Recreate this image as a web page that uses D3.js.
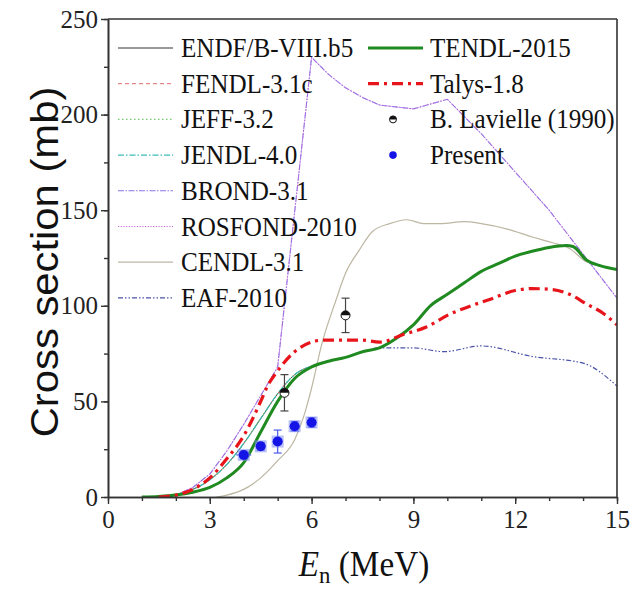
<!DOCTYPE html>
<html>
<head>
<meta charset="utf-8">
<script src="https://cdn.jsdelivr.net/npm/d3@7/dist/d3.min.js"></script>
<style>
  body { margin: 0; background: #fff; }
</style>
</head>
<body>
<svg id="main" width="640" height="590"></svg>
<script>
// values, [E (MeV), cross section (mb)]
var tendl2015 = [[1,0],[1.5,0.3],[2,1],[2.5,2.5],[3,5],[3.5,10],[4,18],[4.5,34],[5,50],[5.5,62],[6,68],[6.5,71],[7,73],[7.5,76],[8,78],[8.5,83],[9,90],[9.5,100],[10,106],[10.5,112],[11,118],[11.5,122],[12,126],[12.5,128.5],[13,130.5],[13.5,131.5],[13.7,131],[14.1,124],[14.5,121],[15,119]]
var talys18 = [[1.5,0],[2,1],[2.5,4],[3,10],[3.5,20],[4,32],[4.5,50],[4.7,58],[5,66],[5.5,76],[6,81],[6.3,82],[7,82],[7.5,82],[8,81],[8.7,85],[9.4,89],[10,95],[10.7,100],[11.2,103],[12,108],[12.5,109],[13.1,108.5],[13.6,106],[14.1,101],[14.6,96],[15,90]]
var endfLike = [[1,0],[1.5,0.3],[2,1.2],[2.5,4],[3,9],[3.5,17],[4,28],[4.5,41],[5,54],[5.5,64],[6,68.5],[6.5,71],[7,73],[7.5,76],[8,78],[8.5,83],[9,90],[9.5,100],[10,106],[10.5,112],[11,118],[11.5,122],[12,126],[12.5,128.5],[13,130.5],[13.5,131.5],[13.7,131],[14.1,124],[14.5,121],[15,119]]
var brondLike = [[1,0],[1.5,0.3],[2,1],[2.5,5],[3,12],[3.5,24],[4,38],[4.5,53],[5,68],[6,230],[6.5,221],[7,214],[7.5,209],[8,205],[9,203],[10,208],[11,190],[12,170],[13,150],[14,127],[15,104]]
var cendl31 = [[3.2,0],[3.5,1],[4,4],[4.5,10],[5,19],[5.5,30],[5.8,44],[6,57],[6.3,80],[6.7,102],[7,117],[7.4,129],[7.8,139],[8.3,143],[8.8,145],[9.3,143],[9.8,143],[10.5,144],[11,143],[11.8,140],[12.5,136],[13.1,133],[13.6,130],[14.1,123],[14.5,121],[15,119]]
var eaf2010 = [[1,0],[1.5,0.3],[2,1],[2.5,2.5],[3,5],[3.5,10],[4,18],[4.5,34],[5,50],[5.5,62],[6,68],[6.5,71],[7,73],[7.5,76],[8,78],[9,78],[9.9,76],[11,79],[12.5,73.5],[14,70],[15,58]]

var lavielleE = [5.2, 7.0]
var lavielleV = [54.5, 95]
var lavielleErr = [9.5, 9]

var presentE = [4.0, 4.5, 5.0, 5.5, 6.0]
var presentV = [22, 26.5, 29, 37, 39]
var presentErr = [2, 2, 6, 2.5, 2.5]
var presentEErr = [0.22, 0.15, 0.15, 0.15, 0.15]

var xTicks = [0, 3, 6, 9, 12, 15]
var yTicks = [0, 50, 100, 150, 200, 250]

var svg = d3.select('#main')
var x = d3.scaleLinear().domain([0, 15]).range([108, 617])
var y = d3.scaleLinear().domain([0, 250]).range([497, 19])

svg.append('clipPath').attr('id', 'plotclip')
    .append('rect').attr('x', 108).attr('y', 19).attr('width', 509).attr('height', 478)

var smooth = d3.line()
    .x(function(d) { return x(d[0]) })
    .y(function(d) { return y(d[1]) })
    .curve(d3.curveMonotoneX)
var straight = d3.line()
    .x(function(d) { return x(d[0]) })
    .y(function(d) { return y(d[1]) })

// drawing order: hidden ones first, thick curves last
var curves = [
    { name: 'ENDF/B-VIII.b5', data: endfLike, color: '#333', width: 1, dash: null, col: 0, row: 0 },
    { name: 'FENDL-3.1c', data: endfLike, color: '#e06a6a', width: 1, dash: '4,3', col: 0, row: 1 },
    { name: 'JEFF-3.2', data: endfLike, color: '#6fcf6f', width: 1.2, dash: '1.5,2.5', col: 0, row: 2 },
    { name: 'JENDL-4.0', data: endfLike, color: '#3cbcbc', width: 1.2, dash: '6,2,1.5,2', col: 0, row: 3 },
    { name: 'EAF-2010', data: eaf2010, color: '#4a52a8', width: 1.2, dash: '5,2,1.5,2,1.5,2', col: 0, row: 7 },
    { name: 'CENDL-3.1', data: cendl31, color: '#bcb6a2', width: 1.2, dash: null, col: 0, row: 6 },
    { name: 'BROND-3.1', data: brondLike, color: '#8a72e6', width: 1.1, dash: '6,1.5,1.5,1.5', col: 0, row: 4, linear: true },
    { name: 'ROSFOND-2010', data: brondLike, color: '#c868dc', width: 1, dash: '1.2,1.5', col: 0, row: 5, linear: true },
    { name: 'TENDL-2015', data: tendl2015, color: '#1f8a1f', width: 3, dash: null, col: 1, row: 0 },
    { name: 'Talys-1.8', data: talys18, color: '#e8141c', width: 3.2, dash: '11,5,3,5', col: 1, row: 1 }
]

var plot = svg.append('g').attr('clip-path', 'url(#plotclip)')
plot.selectAll('path.curve').data(curves).enter().append('path')
    .attr('class', 'curve')
    .attr('d', function(d) { return d.linear ? straight(d.data) : smooth(d.data) })
    .attr('fill', 'none')
    .attr('stroke', function(d) { return d.color })
    .attr('stroke-width', function(d) { return d.width })
    .attr('stroke-dasharray', function(d) { return d.dash })

// B. Lavielle points
var lav = lavielleE.map(function(e, i) { return { e: e, v: lavielleV[i], err: lavielleErr[i] } })
var lg = svg.append('g').selectAll('g').data(lav).enter().append('g')
lg.append('line')
    .attr('x1', function(d) { return x(d.e) }).attr('x2', function(d) { return x(d.e) })
    .attr('y1', function(d) { return y(d.v - d.err) }).attr('y2', function(d) { return y(d.v + d.err) })
    .attr('stroke', '#444').attr('stroke-width', 1.2)
lg.selectAll('line.cap').data(function(d) { return [d.v - d.err, d.v + d.err].map(function(v) { return { e: d.e, v: v } }) })
    .enter().append('line').attr('class', 'cap')
    .attr('x1', function(d) { return x(d.e) - 4 }).attr('x2', function(d) { return x(d.e) + 4 })
    .attr('y1', function(d) { return y(d.v) }).attr('y2', function(d) { return y(d.v) })
    .attr('stroke', '#444').attr('stroke-width', 1.2)

function halfCircle(g, cx, cy, r) {
    g.append('circle').attr('cx', cx).attr('cy', cy).attr('r', r)
        .attr('fill', '#fff').attr('stroke', '#111').attr('stroke-width', 1)
    g.append('path')
        .attr('d', 'M' + (cx - r) + ',' + cy + ' A' + r + ',' + r + ' 0 0,1 ' + (cx + r) + ',' + cy + ' Z')
        .attr('fill', '#111')
}
lg.each(function(d) { halfCircle(d3.select(this), x(d.e), y(d.v), 4.5) })

// Present points
var pres = presentE.map(function(e, i) { return { e: e, v: presentV[i], err: presentErr[i], eerr: presentEErr[i] } })
var pg = svg.append('g').selectAll('g').data(pres).enter().append('g')
pg.append('line')
    .attr('x1', function(d) { return x(d.e) }).attr('x2', function(d) { return x(d.e) })
    .attr('y1', function(d) { return y(d.v - d.err) }).attr('y2', function(d) { return y(d.v + d.err) })
    .attr('stroke', '#4a5ae8').attr('stroke-width', 1.2)
pg.append('line')
    .attr('x1', function(d) { return x(d.e - d.eerr) }).attr('x2', function(d) { return x(d.e + d.eerr) })
    .attr('y1', function(d) { return y(d.v) }).attr('y2', function(d) { return y(d.v) })
    .attr('stroke', '#4a5ae8').attr('stroke-width', 1.2)
pg.selectAll('line.cap').data(function(d) { return [d.v - d.err, d.v + d.err].map(function(v) { return { e: d.e, v: v } }) })
    .enter().append('line').attr('class', 'cap')
    .attr('x1', function(d) { return x(d.e) - 4 }).attr('x2', function(d) { return x(d.e) + 4 })
    .attr('y1', function(d) { return y(d.v) }).attr('y2', function(d) { return y(d.v) })
    .attr('stroke', '#4a5ae8').attr('stroke-width', 1.2)
pg.append('rect')
    .attr('x', function(d) { return x(d.e) - 6 }).attr('y', function(d) { return y(d.v) - 6 })
    .attr('width', 12).attr('height', 12)
    .attr('fill', '#7f8cf4').attr('fill-opacity', 0.55)
pg.append('circle')
    .attr('cx', function(d) { return x(d.e) }).attr('cy', function(d) { return y(d.v) })
    .attr('r', 5).attr('fill', '#1414e6')

// axes
var axisColor = '#333'
svg.append('g').attr('transform', 'translate(0,497)')
    .call(d3.axisBottom(x).tickValues(xTicks).tickSize(7).tickSizeOuter(0).tickPadding(6))
svg.append('g').attr('transform', 'translate(0,497)')
    .call(d3.axisBottom(x).tickValues(d3.range(0, 16)).tickSize(4).tickSizeOuter(0).tickFormat(''))
svg.append('g').attr('transform', 'translate(108,0)')
    .call(d3.axisLeft(y).tickValues(yTicks).tickSize(7).tickSizeOuter(0).tickPadding(3))
svg.append('g').attr('transform', 'translate(108,0)')
    .call(d3.axisLeft(y).tickValues(d3.range(0, 251, 25)).tickSize(4).tickSizeOuter(0).tickFormat(''))

svg.selectAll('.domain').attr('stroke', axisColor).attr('stroke-width', 1.6)
svg.selectAll('.tick line').attr('stroke', axisColor).attr('stroke-width', 1.4)
svg.selectAll('.tick text')
    .attr('fill', '#222')
    .style('font-family', '"Liberation Serif", "Times New Roman", serif')
    .style('font-size', '25px')

// frame top/right
svg.append('line').attr('x1', 108).attr('x2', 617).attr('y1', 19).attr('y2', 19)
    .attr('stroke', axisColor).attr('stroke-width', 1.6)
svg.append('line').attr('x1', 617).attr('x2', 617).attr('y1', 19).attr('y2', 497)
    .attr('stroke', axisColor).attr('stroke-width', 1.6)

// axis titles
svg.append('text')
    .attr('transform', 'translate(58,262) rotate(-90) scale(1.1,1)')
    .attr('text-anchor', 'middle')
    .style('font-family', '"Liberation Sans", Arial, sans-serif')
    .style('font-size', '38px')
    .attr('fill', '#111')
    .text('Cross section (mb)')

var xt = svg.append('text')
    .attr('transform', 'translate(364,576) scale(0.95,1)')
    .attr('text-anchor', 'middle')
    .style('font-family', '"Liberation Serif", "Times New Roman", serif')
    .style('font-size', '35px')
    .attr('fill', '#111')
xt.append('tspan').style('font-style', 'italic').text('E')
xt.append('tspan').attr('dy', 7).style('font-size', '24px').text('n')
xt.append('tspan').attr('dy', -7).text(' (MeV)')

// legend
var legendItems = curves.slice().sort(function(a, b) { return a.col - b.col || a.row - b.row })
var colX = [118, 368]
var rowY = function(r) { return 48 + r * 35.7 }
var leg = svg.append('g').selectAll('g').data(legendItems).enter().append('g')
leg.append('line')
    .attr('x1', function(d) { return colX[d.col] }).attr('x2', function(d) { return colX[d.col] + 55 })
    .attr('y1', function(d) { return rowY(d.row) }).attr('y2', function(d) { return rowY(d.row) })
    .attr('stroke', function(d) { return d.color })
    .attr('stroke-width', function(d) { return d.width })
    .attr('stroke-dasharray', function(d) { return d.dash })

var legendText = function(tx, ty, label) {
    svg.append('text')
        .attr('transform', 'translate(' + tx + ',' + (ty + 9) + ') scale(0.93,1)')
        .style('font-family', '"Liberation Serif", "Times New Roman", serif')
        .style('font-size', '27px')
        .attr('fill', '#111')
        .text(label)
}
legendItems.forEach(function(d) {
    legendText(d.col ? 430 : 181, rowY(d.row), d.name)
})
halfCircle(svg.append('g'), 393, rowY(2), 3.5)
svg.append('circle').attr('cx', 393).attr('cy', rowY(3)).attr('r', 3.8).attr('fill', '#1414e6')
legendText(430, rowY(2), 'B. Lavielle (1990)')
legendText(430, rowY(3), 'Present')
</script>
</body>
</html>
